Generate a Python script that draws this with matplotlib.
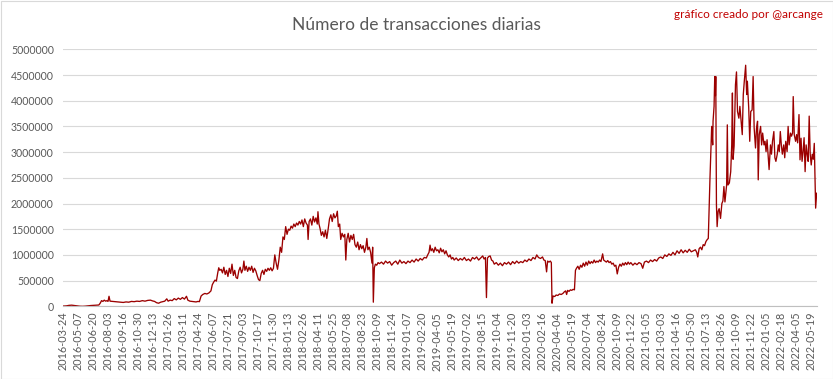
import matplotlib
matplotlib.use('Agg')
import matplotlib.pyplot as plt
from matplotlib.patches import Rectangle
from matplotlib.ticker import FuncFormatter
import numpy as np

plt.rcParams['font.family'] = ['Lato', 'DejaVu Sans']

# etiquetas del eje x (una cada 44 registros)
fechas = ['2016-03-24', '2016-05-07', '2016-06-20', '2016-08-03', '2016-09-16', '2016-10-30',
          '2016-12-13', '2017-01-26', '2017-03-11', '2017-04-24', '2017-06-07', '2017-07-21',
          '2017-09-03', '2017-10-17', '2017-11-30', '2018-01-13', '2018-02-26', '2018-04-11',
          '2018-05-25', '2018-07-08', '2018-08-23', '2018-10-09', '2018-11-24', '2019-01-07',
          '2019-02-20', '2019-04-05', '2019-05-19', '2019-07-02', '2019-08-15', '2019-10-04',
          '2019-11-20', '2020-01-03', '2020-02-16', '2020-04-04', '2020-05-19', '2020-07-04',
          '2020-08-24', '2020-10-09', '2020-11-22', '2021-01-05', '2021-03-03', '2021-04-16',
          '2021-05-30', '2021-07-13', '2021-08-26', '2021-10-09', '2021-11-22', '2022-01-05',
          '2022-02-18', '2022-04-05', '2022-05-19']
paso = 44

# registro (dia) y transacciones en miles, por tramos
dia_2016 = [0, 8, 16, 24, 32, 40, 48, 56, 64, 72, 80, 88, 96, 104, 108, 112, 116, 120, 124, 128,
            131, 134, 137, 144, 152, 160, 168, 176, 184, 192, 200, 208, 216, 224, 232, 240, 248,
            256, 262, 268, 274, 280, 286, 292, 298, 304, 308, 314, 320, 326, 332, 338, 344, 350,
            356, 362, 366, 372, 378, 384, 390, 396, 400]
tx_2016 = [5, 8, 18, 22, 15, 6, 2, 0, 3, 10, 15, 18, 20, 25, 60, 110, 95, 120, 100, 110,
           95, 195, 100, 95, 90, 85, 80, 75, 85, 80, 95, 90, 100, 95, 110, 100, 115,
           120, 105, 95, 70, 60, 80, 90, 100, 145, 100, 120, 110, 150, 125, 160, 135, 170,
           140, 195, 120, 100, 95, 90, 85, 95, 90]

dia_2017 = [405, 410, 416, 422, 428, 434, 438, 442, 446, 450, 454, 457, 460, 464, 468, 472, 476,
            480, 484, 488, 492, 496, 500, 504, 508, 512, 516, 520, 524, 528, 531, 534, 538, 542,
            546, 550, 554, 558, 562, 566, 570, 574, 578, 582, 586, 590, 594, 598, 602, 606, 610,
            614, 618, 622, 626, 630]
tx_2017 = [200, 230, 250, 240, 260, 300, 420, 470, 510, 490, 650, 750, 700, 720, 650, 760, 620,
           700, 580, 740, 640, 820, 600, 700, 560, 540, 690, 760, 650, 720, 880, 700, 780, 680,
           760, 700, 780, 660, 740, 690, 600, 520, 500, 640, 700, 620, 720, 680, 740, 700, 750,
           690, 740, 1000, 840, 720]

dia_2018 = [634, 638, 642, 646, 650, 654, 658, 662, 666, 670, 674, 678, 682, 686, 690, 694, 698,
            702, 706, 710, 714, 718, 720, 723, 727, 731, 735, 739, 743, 747, 749, 752, 755, 759,
            763, 767, 771, 775, 779, 783, 787, 791, 795, 799, 803, 806, 809, 813, 816, 820, 824,
            828, 831, 834, 838, 842, 846, 850, 854, 858, 862, 866, 870, 874, 878, 882, 886, 890,
            893, 896, 900, 904, 908, 910, 912, 915, 918, 922, 926, 930]
tx_2018 = [900, 1150, 1050, 1350, 1300, 1550, 1400, 1500, 1480, 1560, 1520, 1600, 1550, 1620,
           1580, 1650, 1600, 1680, 1550, 1700, 1620, 1580, 1300, 1650, 1700, 1580, 1750, 1640,
           1720, 1600, 1840, 1600, 1520, 1380, 1450, 1350, 1480, 1320, 1500, 1700, 1780, 1650,
           1800, 1720, 1760, 1850, 1550, 1600, 1300, 1420, 1350, 1400, 900, 1300, 1420, 1250,
           1380, 1300, 1400, 1200, 1150, 1250, 1100, 1200, 1120, 1180, 1050, 1150, 1320, 1100,
           1150, 1050, 840, 1150, 80, 750, 820, 800, 850, 830]

dia_2019 = [936, 942, 948, 954, 960, 966, 972, 978, 984, 990, 996, 1002, 1008, 1014, 1020, 1026,
            1032, 1038, 1044, 1050, 1056, 1062, 1068, 1072, 1076, 1079, 1082, 1086, 1090, 1094,
            1098, 1102, 1106, 1110, 1114, 1118, 1122, 1126, 1130, 1134, 1138, 1142, 1146, 1150,
            1156, 1162, 1168, 1174, 1180, 1186, 1192, 1198, 1204, 1210, 1216, 1222, 1228, 1234,
            1238, 1242, 1245, 1248, 1252, 1256, 1260, 1264, 1268, 1274, 1280, 1286, 1292, 1298,
            1304, 1310, 1316, 1322, 1328, 1334, 1340, 1346, 1352, 1358, 1364, 1370, 1376, 1382,
            1388, 1393, 1398, 1404, 1410, 1414, 1418, 1422, 1425, 1429, 1433, 1436]
tx_2019 = [860, 820, 880, 840, 870, 800, 850, 880, 820, 900, 840, 870, 830, 880, 850, 900,
           860, 920, 880, 930, 900, 950, 940, 1000, 1050, 1190, 1080, 1120, 1050, 1150,
           1080, 1100, 1040, 1130, 1060, 1100, 1020, 1080, 1000, 960, 1000, 920, 950, 900,
           940, 890, 930, 900, 950, 890, 920, 880, 950, 920, 960, 900, 940, 980,
           920, 950, 170, 940, 970, 980, 900, 880, 820, 850, 800, 840, 790, 850,
           820, 860, 810, 870, 830, 880, 840, 870, 850, 900, 870, 920, 890, 950,
           920, 1000, 950, 930, 960, 900, 890, 670, 880, 860, 880, 850]

dia_2020 = [1438, 1441, 1446, 1450, 1455, 1460, 1465, 1470, 1474, 1478, 1481, 1484, 1488, 1492,
            1496, 1500, 1504, 1507, 1510, 1514, 1518, 1522, 1526, 1530, 1534, 1538, 1542, 1546,
            1550, 1554, 1558, 1562, 1566, 1570, 1574, 1578, 1582, 1587, 1590, 1594, 1598, 1602,
            1606, 1610, 1614, 1618, 1622, 1626, 1630, 1634, 1638, 1642, 1646, 1650, 1654, 1658,
            1662, 1666, 1670, 1676, 1682, 1688, 1694, 1700, 1705, 1710, 1716, 1722, 1728, 1734,
            1740, 1746, 1752]
tx_2020 = [60, 200, 190, 220, 210, 240, 230, 250, 280, 300, 230, 310, 290, 320,
           310, 330, 320, 700, 740, 780, 720, 800, 760, 840, 780, 860, 800, 880,
           830, 870, 840, 900, 850, 880, 860, 900, 870, 1020, 900, 880, 860, 890,
           850, 870, 820, 840, 780, 800, 630, 760, 820, 780, 840, 800, 850, 810,
           860, 820, 850, 800, 840, 810, 850, 830, 740, 860, 880, 850, 900, 870,
           910, 880, 940]

dia_2021 = [1758, 1764, 1770, 1776, 1782, 1788, 1794, 1800, 1806, 1812, 1818, 1824, 1830, 1836,
            1842, 1848, 1854, 1860, 1864, 1867, 1871, 1875, 1879, 1883, 1887, 1891, 1895, 1898,
            1903, 1908, 1911, 1912, 1915, 1917, 1919, 1920, 1922, 1924, 1927, 1930, 1934, 1938,
            1941, 1944, 1947, 1952, 1954, 1956, 1960, 1964, 1967, 1969, 1971, 1974, 1978, 1981,
            1984, 1988, 1991, 1994, 1998, 2001, 2004, 2008, 2011, 2013, 2017, 2020, 2023, 2027,
            2030, 2033, 2037, 2040, 2043, 2045, 2048, 2052, 2055, 2058]
tx_2021 = [960, 930, 1000, 970, 1020, 990, 1050, 1000, 1080, 1030, 1100, 1040, 1090, 1050,
           1110, 1060, 1080, 1100, 1050, 960, 1120, 1150, 1100, 1200, 1180, 1260, 1300, 1320,
           2500, 3500, 3140, 3600, 3890, 4470, 4100, 4470, 1970, 1550, 1850, 1900, 1710, 2000,
           2050, 2330, 2030, 2360, 3530, 2360, 2400, 2620, 3140, 4150, 2860, 3120, 4310, 4560,
           3790, 3660, 3890, 3660, 3340, 4120, 4380, 4690, 4120, 4380, 3860, 3210, 3790, 3820,
           4470, 3470, 3080, 3470, 3600, 2460, 3340, 3500, 3140, 3370]

dia_2022 = [2062, 2065, 2068, 2071, 2074, 2077, 2081, 2084, 2087, 2091, 2094, 2097, 2101, 2104,
            2107, 2110, 2113, 2116, 2120, 2123, 2126, 2130, 2133, 2136, 2140, 2143, 2146, 2148,
            2151, 2155, 2158, 2161, 2165, 2168, 2171, 2174, 2177, 2180, 2183, 2186, 2189, 2192,
            2195, 2198, 2201, 2204, 2207, 2210, 2212, 2214, 2217]
tx_2022 = [3140, 3210, 3010, 3240, 2960, 2660, 3140, 2960, 3210, 3400, 2890, 2820, 2960, 3140,
           3010, 3400, 3140, 2960, 3140, 2890, 3210, 3010, 3500, 3140, 3370, 3310, 3370, 4080,
           3340, 3210, 3340, 3180, 3730, 2850, 3270, 2820, 3010, 3280, 2620, 3140, 2960, 2820,
           3700, 2960, 2750, 2960, 2860, 3170, 2500, 1910, 2200]

dia = dia_2016 + dia_2017 + dia_2018 + dia_2019 + dia_2020 + dia_2021 + dia_2022
tx = np.array(tx_2016 + tx_2017 + tx_2018 + tx_2019 + tx_2020 + tx_2021 + tx_2022) * 1000

W, H = 833, 379
fig = plt.figure(figsize=(W / 100, H / 100), dpi=100)
ax = fig.add_axes([63.5 / W, 1 - 306.3 / H, (817 - 63.5) / W, (306.3 - 49.3) / H])

ax.plot(dia, tx, color='#9b0000', lw=0.95)

ax.set_xlim(0, 2218)
ax.set_ylim(0, 5000000)
ax.set_yticks(np.arange(0, 5000001, 500000))
ax.yaxis.set_major_formatter(FuncFormatter(lambda v, p: '%d' % v))
ax.set_xticks(np.arange(len(fechas)) * paso)
ax.set_xticklabels(fechas, rotation=90)

ax.yaxis.grid(True, color='#d9d9d9', lw=0.8)
ax.set_axisbelow(True)
for s in ['top', 'right', 'left']:
	ax.spines[s].set_visible(False)
ax.spines['bottom'].set_color('#bfbfbf')
ax.spines['bottom'].set_linewidth(0.8)
ax.tick_params(axis='y', length=0, pad=7, labelsize=7.6, labelcolor='#595959')
ax.tick_params(axis='x', length=0, pad=4, labelsize=7.8, labelcolor='#595959')

fig.text(0.5, 1 - 25 / H, 'Número de transacciones diarias', ha='center', va='center',
         fontsize=12.5, color='#595959')
fig.text(823 / W, 1 - 15 / H, 'gráfico creado por @arcange', ha='right', va='center',
         fontsize=8.5, color='#c00000')

fig.patches.append(Rectangle((0.5 / W, 0.5 / H), 1 - 1 / W, 1 - 1 / H, transform=fig.transFigure,
                             fill=False, ec='#d9d9d9', lw=0.8))

plt.savefig('out.png', dpi=100)
plt.close()
